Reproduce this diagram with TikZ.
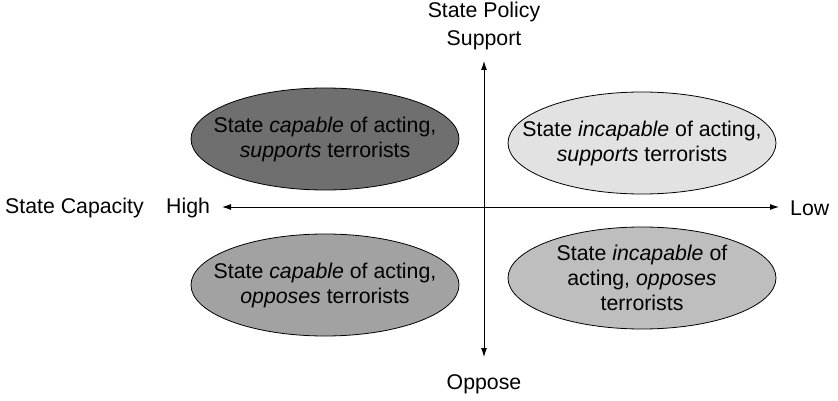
\documentclass[tikz,border=0pt]{standalone}
\usepackage{fontspec}
\setmainfont{Liberation Sans}
\usetikzlibrary{shapes.geometric,arrows.meta}
\definecolor{cA}{HTML}{6F6F6F}
\definecolor{cB}{HTML}{E2E2E2}
\definecolor{cC}{HTML}{A2A2A2}
\definecolor{cD}{HTML}{BEBEBE}
\tikzset{
  quad/.style={ellipse, draw=black, line width=0.8pt, minimum width=268pt, minimum height=102pt, inner sep=0pt},
  qtext/.style={inner sep=0pt, align=center, font=\fontsize{21.3}{25}\selectfont},
  axis/.style={line width=0.9pt, {Latex[length=9pt,width=6pt]}-{Latex[length=9pt,width=6pt]}},
  lab/.style={font=\fontsize{21.3}{28}\selectfont, inner sep=0pt, align=center}
}
\begin{document}
\begin{tikzpicture}[x=1pt,y=-1pt]
\useasboundingbox (0,0) rectangle (838,401);
\node[quad, fill=cA] (tl) at (325,139) {};
\node[quad, fill=cB] (tr) at (642,143) {};
\node[quad, fill=cC] (bl) at (325,285) {};
\node[quad, fill=cD] (br) at (642,278) {};
\node[qtext] (tlt) at (tl.center) {State \emph{capable} of acting,\\\emph{supports} terrorists};
\node[qtext] (trt) at (tr.center) {State \emph{incapable} of acting,\\\emph{supports} terrorists};
\node[qtext] (blt) at (bl.center) {State \emph{capable} of acting,\\\emph{opposes} terrorists};
\node[qtext] (brt) at (br.center) {State \emph{incapable} of\\acting, \emph{opposes}\\terrorists};
\node[lab] (sup) at (484,26) {State Policy\\Support};
\node[lab] (opp) at (484,384) {Oppose};
\node[lab, anchor=west] (cap) at (5,208) {State Capacity};
\node[lab, anchor=west] (high) at (166,208) {High};
\node[lab, anchor=west] (low) at (790,208) {Low};
\coordinate (top) at (484,61);
\coordinate (bot) at (484,357);
\draw[axis] (bot) -- (top);
\draw[axis] (222,207) coordinate (hl) -- (779,207) coordinate (hr);
\end{tikzpicture}
\end{document}
